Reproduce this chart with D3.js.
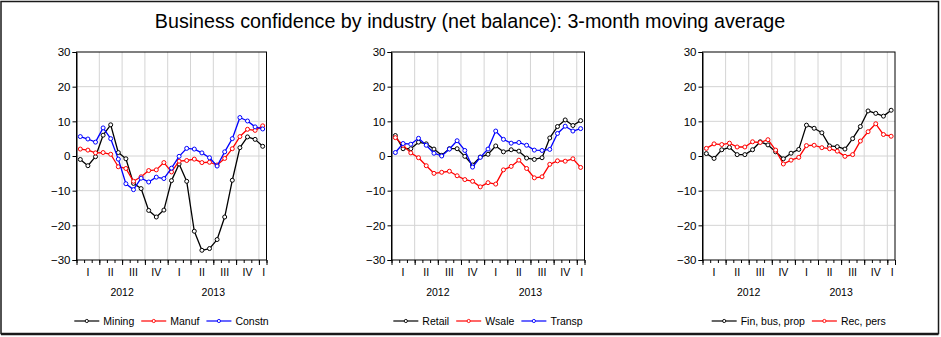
<!DOCTYPE html>
<html>
<head>
<meta charset="utf-8">
<script src="https://cdn.jsdelivr.net/npm/d3@7"></script>
<style>
  html, body { margin: 0; padding: 0; background: #fff; }
  svg { display: block; font-family: "Liberation Sans", Arial, sans-serif; }
</style>
</head>
<body>
<svg id="chart" width="941" height="337"></svg>
<script>
// Monthly observations, Jan 2012 – Jan 2014
const months = ["2012M01","2012M02","2012M03","2012M04","2012M05","2012M06",
                "2012M07","2012M08","2012M09","2012M10","2012M11","2012M12",
                "2013M01","2013M02","2013M03","2013M04","2013M05","2013M06",
                "2013M07","2013M08","2013M09","2013M10","2013M11","2013M12",
                "2014M01"];
const quarterLabels = ["I","II","III","IV","I","II","III","IV","I"];
const yearLabels = ["2012","2013"];
const yTicks = [-30,-20,-10,0,10,20,30];

// Net balances, 3-month moving average
const mining = [-1,-2.8,-0.2,6,9,1,-0.8,-7.9,-9.4,-15.7,-17.6,-15.6,
                -7.1,-2.3,-7.3,-21.7,-27.2,-26.7,-24.1,-17.6,-7,2.4,5.5,4.8,2.8];
const manuf  = [2,1.7,0.9,1,0.5,-3.1,-3.6,-7.3,-6,-4.2,-4,-1.9,
                -4.6,-1.5,-1.3,-0.9,-1.9,-1.8,-2.6,-0.7,2.1,5.6,7.7,7.4,8.7];
const constn = [5.6,4.9,4,8.1,5,-0.9,-8,-9.7,-6.4,-7.5,-6.1,-6.5,
                -3.5,-0.1,2.2,2,0.9,-0.5,-2.9,1.2,5,11.1,10.1,8.4,7.8];

const retail = [5.9,2.1,2.1,4,3.5,2,0.2,2.1,2.1,-0.1,-2.6,-0.3,
                0.5,2.9,1.2,1.8,1.4,-0.6,-1,-0.5,5.2,8.5,10.4,8.8,10.2];
const wsale  = [5.3,3.1,0.9,-0.5,-2.8,-5,-4.7,-4.4,-5.7,-6.8,-7.3,-8.9,
                -7.7,-8.1,-4,-3,-1.2,-3.6,-6.3,-6,-2.4,-1.4,-1.5,-0.8,-3.3];
const transp = [1,3.6,3.4,5.1,3.1,0.8,0,2,4.4,1.6,-3.2,-0.4,
                2,7.2,4.8,3.7,3.9,3.1,1.7,1.6,1.9,6.5,8.6,7.2,7.9];

const finBusProp = [0.7,-0.7,1.8,2.5,0.4,0.4,1.8,4.1,3.2,1.2,-0.8,0.8,
                    1.9,8.9,8,6.7,2.9,2.7,2,5,8.5,13,12.3,11.5,13.2];
const recPers    = [2.2,3.5,3.3,3.7,2.6,2.6,4.1,3.9,4.7,1.7,-2.3,-1.2,
                    -0.4,3,3.1,2.4,2.1,1.4,-0.1,0.4,4.3,7,9.3,6.2,5.7];

const panels = [
  { left: 76.5, right: 266.5, series: [
      { name: "Mining", values: mining, color: "#000000" },
      { name: "Manuf",  values: manuf,  color: "#ff0000" },
      { name: "Constn", values: constn, color: "#0000ff" } ] },
  { left: 391.5, right: 584.5, series: [
      { name: "Retail", values: retail, color: "#000000" },
      { name: "Wsale",  values: wsale,  color: "#ff0000" },
      { name: "Transp", values: transp, color: "#0000ff" } ] },
  { left: 702.5, right: 895, series: [
      { name: "Fin, bus, prop", values: finBusProp, color: "#000000" },
      { name: "Rec, pers",      values: recPers,    color: "#ff0000" } ] }
];

const svg = d3.select("#chart");
const plotTop = 52, plotBottom = 260;
const gridColor = "#d4d4d4";

// outer frame
svg.append("rect").attr("x", 1).attr("y", 1.5).attr("width", 937.5).attr("height", 332)
  .attr("fill", "none").attr("stroke", "#1a1a1a").attr("stroke-width", 1.5);
svg.append("line").attr("x1", 1).attr("x2", 938.5).attr("y1", 334.5).attr("y2", 334.5)
  .attr("stroke", "#1a1a1a").attr("stroke-width", 1.5);

svg.append("text").attr("x", 470).attr("y", 28).attr("text-anchor", "middle")
  .attr("font-size", 19.7).attr("fill", "#000")
  .text("Business confidence by industry (net balance): 3-month moving average");

const y = d3.scaleLinear().domain([-30, 30]).range([plotBottom, plotTop]);

panels.forEach(p => {
  const g = svg.append("g");
  // month boundaries 0..25; observations sit in the middle of each month
  const x = d3.scaleLinear().domain([0, months.length]).range([p.left, p.right]);
  const xc = i => x(i + 0.5);

  // gridlines
  g.append("g").selectAll("line").data(yTicks.filter(v => v > -30 && v < 30)).join("line")
    .attr("x1", p.left).attr("x2", p.right)
    .attr("y1", d => y(d)).attr("y2", d => y(d))
    .attr("stroke", gridColor).attr("stroke-width", 1);
  const quarterBounds = d3.range(3, months.length, 3);
  g.append("g").selectAll("line").data(quarterBounds).join("line")
    .attr("x1", d => x(d)).attr("x2", d => x(d))
    .attr("y1", plotTop).attr("y2", plotBottom)
    .attr("stroke", gridColor).attr("stroke-width", 1);

  // frame
  g.append("rect").attr("x", p.left).attr("y", plotTop)
    .attr("width", p.right - p.left).attr("height", plotBottom - plotTop)
    .attr("fill", "none").attr("stroke", "#000").attr("stroke-width", 1);

  // y axis
  const ya = d3.axisLeft(y).tickValues(yTicks).tickSize(4).tickPadding(2).tickFormat(d3.format("d"));
  g.append("g").attr("transform", `translate(${p.left},0)`).call(ya)
    .call(s => s.select(".domain").attr("stroke", "#000"))
    .call(s => s.selectAll("text").attr("font-size", 11.5).attr("fill", "#000")
                  .attr("font-family", "Liberation Sans, Arial, sans-serif"));

  // x axis: monthly minor ticks, quarterly major ticks
  const xMinor = d3.axisBottom(x).tickValues(d3.range(0, months.length + 1)).tickSize(3).tickFormat("");
  g.append("g").attr("transform", `translate(0,${plotBottom})`).call(xMinor)
    .call(s => s.select(".domain").remove());
  const xMajor = d3.axisBottom(x).tickValues(d3.range(0, months.length + 1, 3).concat([months.length])).tickSize(5).tickFormat("");
  g.append("g").attr("transform", `translate(0,${plotBottom})`).call(xMajor)
    .call(s => s.select(".domain").remove());

  // quarter labels centred in each quarter
  g.append("g").selectAll("text").data(quarterLabels).join("text")
    .attr("x", (d, i) => i < 8 ? x(i * 3 + 1.5) : x(24.5) + 1)
    .attr("y", 276).attr("text-anchor", "middle")
    .attr("font-size", 10.5).attr("fill", "#000").text(d => d);
  g.append("g").selectAll("text").data(yearLabels).join("text")
    .attr("x", (d, i) => x(i * 12 + 6)).attr("y", 296).attr("text-anchor", "middle")
    .attr("font-size", 10.5).attr("fill", "#000").text(d => d);

  // series
  const line = d3.line().x((d, i) => xc(i)).y(d => y(d));
  p.series.forEach(s => {
    g.append("path").datum(s.values).attr("d", line)
      .attr("fill", "none").attr("stroke", s.color).attr("stroke-width", 1.3)
      .attr("stroke-linejoin", "round");
    g.append("g").selectAll("circle").data(s.values).join("circle")
      .attr("cx", (d, i) => xc(i)).attr("cy", d => y(d)).attr("r", 2)
      .attr("fill", "#fff").attr("stroke", s.color).attr("stroke-width", 1);
  });

  // legend
  const lg = g.append("g");
  let cx = 0;
  const lineLen = 25, gapText = 4, gapItem = 7;
  p.series.forEach((s, k) => {
    const item = lg.append("g").attr("transform", `translate(${cx},0)`);
    item.append("line").attr("x1", 0).attr("x2", lineLen).attr("y1", 0).attr("y2", 0)
      .attr("stroke", s.color).attr("stroke-width", 1.2);
    item.append("circle").attr("cx", lineLen / 2).attr("cy", 0).attr("r", 1.6)
      .attr("fill", "#fff").attr("stroke", s.color).attr("stroke-width", 0.9);
    const t = item.append("text").attr("x", lineLen + gapText).attr("y", 3.8)
      .attr("font-size", 10.5).attr("fill", "#000").text(s.name);
    cx += lineLen + gapText + t.node().getComputedTextLength() + gapItem;
  });
  const totalW = cx - gapItem;
  const mid = (p.left + p.right) / 2;
  lg.attr("transform", `translate(${mid - totalW / 2},321)`);
});
</script>
</body>
</html>
